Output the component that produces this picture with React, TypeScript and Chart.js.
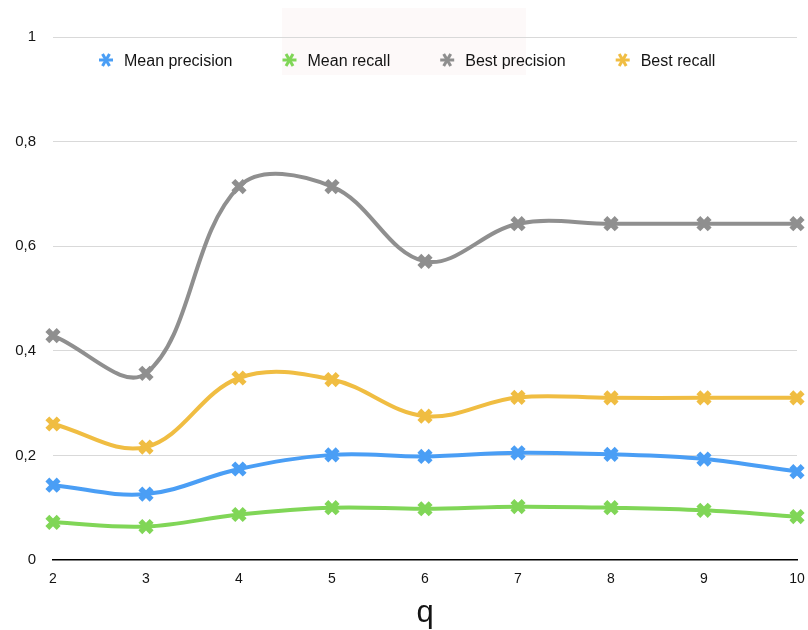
import { useEffect, useRef } from 'react';
import { Chart, registerables } from 'chart.js';

Chart.register(...registerables);

const categories = ['2', '3', '4', '5', '6', '7', '8', '9', '10'];
const meanPrecision = [0.143, 0.126, 0.174, 0.201, 0.198, 0.205, 0.202, 0.193, 0.169];
const meanRecall = [0.072, 0.064, 0.087, 0.1, 0.098, 0.102, 0.1, 0.095, 0.083];
const bestPrecision = [0.429, 0.357, 0.714, 0.714, 0.571, 0.643, 0.643, 0.643, 0.643];
const bestRecall = [0.26, 0.216, 0.348, 0.345, 0.275, 0.311, 0.31, 0.31, 0.31];

const seriesLabels = ['Mean precision', 'Mean recall', 'Best precision', 'Best recall'];
const seriesColors = ['#4a9ef5', '#80d657', '#8f8f8f', '#f0bd42'];

const FONT = '"Liberation Sans", Arial, Helvetica, sans-serif';
const TEXT = '#141414';

// Six-armed asterisk used as the legend swatch
function drawAsterisk(ctx: CanvasRenderingContext2D, x: number, y: number, color: string) {
  const r = 7;
  ctx.save();
  ctx.strokeStyle = color;
  ctx.lineWidth = 3;
  ctx.lineCap = 'butt';
  for (const a of [0, Math.PI / 3, (2 * Math.PI) / 3]) {
    ctx.beginPath();
    ctx.moveTo(x - r * Math.cos(a), y - r * Math.sin(a));
    ctx.lineTo(x + r * Math.cos(a), y + r * Math.sin(a));
    ctx.stroke();
  }
  ctx.restore();
}

const backdropPlugin = {
  id: 'backdrop',
  beforeDraw(chart: any) {
    const { ctx, width, height } = chart;
    ctx.save();
    ctx.fillStyle = '#ffffff';
    ctx.fillRect(0, 0, width, height);
    ctx.fillStyle = '#fdf9f9';
    ctx.fillRect(282, 8, 244, 67);
    ctx.restore();
  },
};

// Legend drawn in a single row inside the plot, just under the top gridline
const inlineLegendPlugin = {
  id: 'inlineLegend',
  afterDraw(chart: any) {
    const ctx: CanvasRenderingContext2D = chart.ctx;
    ctx.save();
    ctx.font = `16px ${FONT}`;
    ctx.textBaseline = 'alphabetic';
    ctx.textAlign = 'left';
    let x = 106;
    const y = 60;
    chart.data.datasets.forEach((ds: any) => {
      drawAsterisk(ctx, x, y, ds.borderColor);
      ctx.fillStyle = TEXT;
      ctx.fillText(ds.label, x + 18, y + 5.5);
      x += 18 + ctx.measureText(ds.label).width + 57;
    });
    ctx.restore();
  },
};

export default function App() {
  const canvasRef = useRef<HTMLCanvasElement | null>(null);

  useEffect(() => {
    if (!canvasRef.current) return;
    const seriesValues = [meanPrecision, meanRecall, bestPrecision, bestRecall];
    const chart = new Chart(canvasRef.current, {
      type: 'line',
      data: {
        labels: categories,
        datasets: seriesValues.map((values, i) => ({
          label: seriesLabels[i],
          data: values,
          borderColor: seriesColors[i],
          backgroundColor: seriesColors[i],
          borderWidth: 4,
          tension: 0.37,
          pointStyle: 'crossRot',
          pointRadius: 8,
          pointHoverRadius: 8,
          pointBorderWidth: 5.5,
          pointBorderColor: seriesColors[i],
          pointBackgroundColor: seriesColors[i],
          clip: false,
        })),
      },
      options: {
        animation: false,
        responsive: true,
        maintainAspectRatio: false,
        layout: { autoPadding: false, padding: { left: 0, right: 11, top: 37, bottom: 0 } },
        plugins: {
          legend: { display: false },
          tooltip: { enabled: false },
        },
        scales: {
          x: {
            type: 'category',
            grid: { display: false },
            border: { display: true, color: '#000000', width: 1.5 },
            ticks: {
              color: TEXT,
              font: { family: FONT, size: 14 },
              padding: 3,
              maxRotation: 0,
            },
            title: {
              display: true,
              text: 'q',
              color: TEXT,
              font: { family: FONT, size: 31 },
              padding: { top: 0, bottom: -2 },
            },
            afterFit: (scale: any) => {
              scale.height = 70;
              scale.paddingLeft = 0;
              scale.paddingRight = 0;
            },
          },
          y: {
            min: 0,
            max: 1,
            border: { display: false },
            grid: {
              drawTicks: false,
              lineWidth: 1,
              color: (ctx: any) => (ctx.tick && ctx.tick.value === 0 ? 'rgba(0,0,0,0)' : '#d9d9d9'),
            },
            ticks: {
              stepSize: 0.2,
              color: TEXT,
              padding: 17,
              font: { family: FONT, size: 15 },
              callback: (v: any) => String(Math.round(Number(v) * 10) / 10).replace('.', ','),
            },
            afterFit: (scale: any) => {
              scale.width = 53;
            },
          },
        },
      },
      plugins: [backdropPlugin, inlineLegendPlugin],
    });
    return () => chart.destroy();
  }, []);

  return (
    <div style={{ position: 'fixed', left: 0, top: 0, width: 808, height: 630, background: '#fff' }}>
      <canvas ref={canvasRef} />
    </div>
  );
}
